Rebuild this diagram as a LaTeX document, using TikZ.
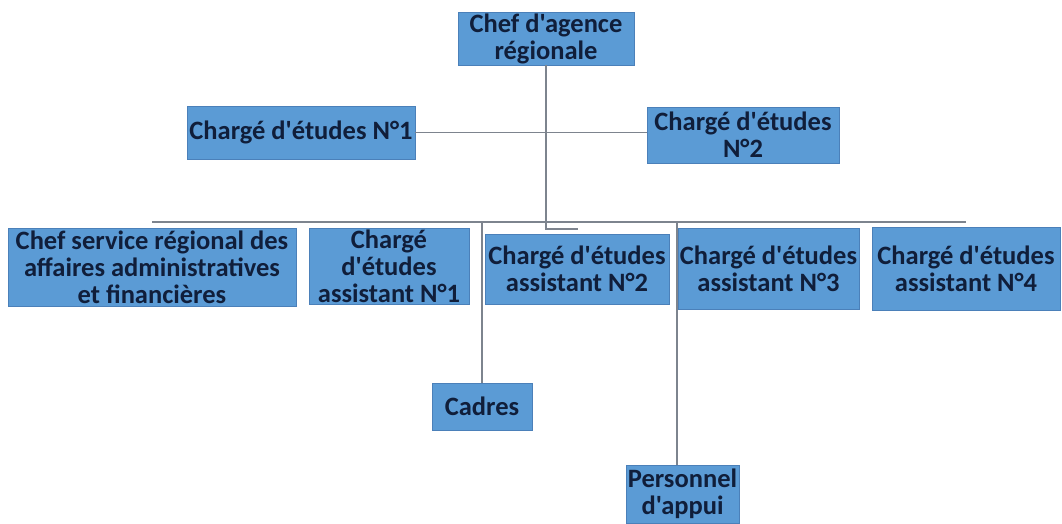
\documentclass[tikz,border=0pt]{standalone}
\usepackage{fontspec}
\newfontfamily\boxfont{Carlito}[Ligatures=TeXOff]
\definecolor{bleuboite}{RGB}{91,155,213}
\definecolor{bordboite}{RGB}{75,128,185}
\definecolor{texteboite}{RGB}{16,30,58}
\definecolor{gristrait}{RGB}{125,132,142}

\tikzset{poste/.style = {rectangle, fill=bleuboite, draw=bordboite, line width=0.6pt,
                         text=texteboite, align=center, inner sep=0pt,
                         font=\boxfont\bfseries\fontsize{26.5}{27}\selectfont},
         lien/.style  = {draw=gristrait, line width=1.4pt}
        }

\begin{document}
\begin{tikzpicture}[x=1pt,y=-1pt]
  \useasboundingbox (0,0) rectangle (1062,523);
  % direction
  \node[poste, minimum width=176pt, minimum height=53pt] (chef) at (546,38.5) {Chef d'agence\\régionale};
  \node[poste, minimum width=228pt, minimum height=53pt] (ce1) at (301,132.5) {Chargé d'études N°1};
  \node[poste, minimum width=192pt, minimum height=56pt] (ce2) at (743,135) {Chargé d'études\\N°2};
  % services
  \node[poste, minimum width=288pt, minimum height=78pt] (b1) at (152,267) {Chef service régional des\\affaires administratives\\et financières};
  \node[poste, minimum width=160pt, minimum height=76pt] (b2) at (389,266) {Chargé\\d'études\\assistant N°1};
  \node[poste, minimum width=184pt, minimum height=70pt] (b3) at (577,269) {Chargé d'études\\assistant N°2};
  \node[poste, minimum width=181pt, minimum height=81pt] (b4) at (768.5,268.5) {Chargé d'études\\assistant N°3};
  \node[poste, minimum width=188pt, minimum height=83pt] (b5) at (966,268.5) {Chargé d'études\\assistant N°4};
  % personnel
  \node[poste, minimum width=100pt, minimum height=47pt] (cadres) at (482,406.5) {Cadres};
  \node[poste, minimum width=113pt, minimum height=58pt] (perso) at (682.5,494) {Personnel\\d'appui};
  \coordinate (bus) at (0,222);
  \coordinate (coude) at (578,229);

  \draw[lien] (chef.south) |- (coude);
  \draw[lien] (ce1.east) -- (ce1.east -| ce2.west);
  \draw[lien] (b1 |- bus) -- (b5 |- bus);
  \draw[lien] (cadres |- bus) -- (cadres.north);
  \draw[lien] ([xshift=-5.5pt]perso.north |- bus) -- ([xshift=-5.5pt]perso.north);
\end{tikzpicture}
\end{document}
